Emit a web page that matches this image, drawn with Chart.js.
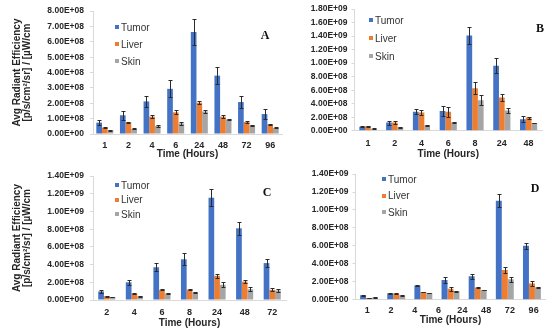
<!DOCTYPE html>
<html>
<head>
<meta charset="utf-8">
<script src="https://cdn.jsdelivr.net/npm/chart.js@4"></script>
<style>
  body { margin: 0; background: #fff; }
  #wrap { position: relative; width: 550px; height: 330px; overflow: hidden; background: #fff; }
  canvas { position: absolute; }
  .legend { position: absolute; font: 10px "Liberation Sans", Arial, sans-serif; color: #333; }
  .legend div { white-space: nowrap; }
  .legend span { display: inline-block; width: 4px; height: 4px; margin-right: 2px; vertical-align: middle; position: relative; top: -1px; }
  .tag { position: absolute; font: bold 12px "Liberation Serif", "Times New Roman", serif; color: #111; transform: translate(-50%, -50%); }
</style>
</head>
<body>
<div id="wrap">
  <canvas id="chartA" width="290" height="165" style="left:0;top:0"></canvas>
  <canvas id="chartB" width="275" height="165" style="left:275px;top:0"></canvas>
  <canvas id="chartC" width="290" height="165" style="left:0;top:165px"></canvas>
  <canvas id="chartD" width="275" height="165" style="left:275px;top:165px"></canvas>
</div>
<script>
// panel A
const aTimes = ['1', '2', '4', '6', '24', '48', '72', '96'];
const aTumor = [0.74e8, 1.22e8, 2.12e8, 2.94e8, 6.64e8, 3.80e8, 2.08e8, 1.30e8];
const aTumorErr = [0.15e8, 0.30e8, 0.36e8, 0.56e8, 0.84e8, 0.53e8, 0.42e8, 0.30e8];
const aLiver = [0.42e8, 0.76e8, 1.13e8, 1.41e8, 2.04e8, 1.13e8, 0.78e8, 0.63e8];
const aLiverErr = [0.04e8, 0.05e8, 0.08e8, 0.12e8, 0.08e8, 0.12e8, 0.05e8, 0.05e8];
const aSkin = [0.25e8, 0.33e8, 0.52e8, 0.69e8, 1.47e8, 0.95e8, 0.57e8, 0.40e8];
const aSkinErr = [0.03e8, 0.03e8, 0.05e8, 0.10e8, 0.12e8, 0.04e8, 0.04e8, 0.03e8];

// panel B
const bTimes = ['1', '2', '4', '6', '8', '24', '48'];
const bTumor = [0.06e9, 0.12e9, 0.28e9, 0.29e9, 1.41e9, 0.96e9, 0.17e9];
const bTumorErr = [0.01e9, 0.03e9, 0.04e9, 0.07e9, 0.13e9, 0.11e9, 0.045e9];
const bLiver = [0.065e9, 0.12e9, 0.27e9, 0.28e9, 0.63e9, 0.49e9, 0.195e9];
const bLiverErr = [0.005e9, 0.02e9, 0.035e9, 0.07e9, 0.09e9, 0.05e9, 0.015e9];
const bSkin = [0.03e9, 0.05e9, 0.08e9, 0.12e9, 0.45e9, 0.30e9, 0.115e9];
const bSkinErr = [0.005e9, 0.005e9, 0.005e9, 0.005e9, 0.075e9, 0.035e9, 0.005e9];

// panel C
const cTimes = ['2', '4', '6', '8', '24', '48', '72'];
const cTumor = [0.097e9, 0.20e9, 0.37e9, 0.46e9, 1.156e9, 0.81e9, 0.417e9];
const cTumorErr = [0.015e9, 0.03e9, 0.045e9, 0.07e9, 0.094e9, 0.07e9, 0.046e9];
const cLiver = [0.043e9, 0.075e9, 0.115e9, 0.118e9, 0.273e9, 0.208e9, 0.115e9];
const cLiverErr = [0.004e9, 0.005e9, 0.005e9, 0.008e9, 0.02e9, 0.015e9, 0.015e9];
const cSkin = [0.032e9, 0.043e9, 0.075e9, 0.086e9, 0.172e9, 0.122e9, 0.108e9];
const cSkinErr = [0.003e9, 0.004e9, 0.005e9, 0.008e9, 0.028e9, 0.025e9, 0.015e9];

// panel D: 8 tick labels on the axis but only 7 bar groups
const dTimes = ['1', '2', '4', '6', '24', '48', '72', '96'];
const dGroups = ['g1', 'g2', 'g3', 'g4', 'g5', 'g6', 'g7'];
const dTumor = [0.05e9, 0.072e9, 0.158e9, 0.22e9, 0.26e9, 1.104e9, 0.60e9];
const dTumorErr = [0.004e9, 0.004e9, 0.005e9, 0.03e9, 0.025e9, 0.07e9, 0.033e9];
const dLiver = [0.02e9, 0.068e9, 0.086e9, 0.122e9, 0.137e9, 0.33e9, 0.18e9];
const dLiverErr = [0.003e9, 0.004e9, 0.005e9, 0.025e9, 0.005e9, 0.033e9, 0.03e9];
const dSkin = [0.025e9, 0.05e9, 0.075e9, 0.094e9, 0.108e9, 0.227e9, 0.14e9];
const dSkinErr = [0.002e9, 0.005e9, 0.005e9, 0.005e9, 0.005e9, 0.028e9, 0.005e9];

const seriesNames = ['Tumor', 'Liver', 'Skin'];
const seriesColors = ['#4472C4', '#ED7D31', '#A5A5A5'];
const yTitle = ['Avg Radiant Efficiency', '[p/s/cm\u00B2/sr] / [\u00B5W/cm'];
const xTitle = 'Time (Hours)';

const FONT = '"Liberation Sans", Arial, sans-serif';
const TEXT = '#262626';
const AXIS = '#d9d9d9';

const sci = (v) => {
    if (v === 0) return '0.00E+00';
    const e = Math.floor(Math.log10(v) + 1e-9);
    const m = v / Math.pow(10, e);
    return m.toFixed(2) + 'E+' + String(e).padStart(2, '0');
};

const errorBars = {
    id: 'errorBars',
    afterDatasetsDraw(chart) {
        const ctx = chart.ctx;
        const y = chart.scales.y;
        ctx.save();
        ctx.strokeStyle = '#2b2b2b';
        ctx.lineWidth = 1;
        chart.data.datasets.forEach((ds, i) => {
            chart.getDatasetMeta(i).data.forEach((bar, j) => {
                const err = ds.errors[j];
                if (!err) return;
                const top = Math.round(y.getPixelForValue(ds.data[j] + err)) + 0.5;
                const bot = Math.round(y.getPixelForValue(Math.max(0, ds.data[j] - err))) + 0.5;
                const x = Math.round(bar.x) + 0.5;
                ctx.beginPath();
                ctx.moveTo(x, top); ctx.lineTo(x, bot);
                ctx.moveTo(x - 2, top); ctx.lineTo(x + 2, top);
                ctx.moveTo(x - 2, bot); ctx.lineTo(x + 2, bot);
                ctx.stroke();
            });
        });
        ctx.restore();
    }
};

class PanelChart {
    constructor(p) {
        this.p = p;
    }

    render() {
        const p = this.p;
        const datasets = p.series.map((s, i) => ({
            label: seriesNames[i],
            data: s.values,
            errors: s.errors,
            backgroundColor: seriesColors[i],
            categoryPercentage: p.catPct,
            barPercentage: 1.0,
            xAxisID: 'x'
        }));

        const xTicks = {
            color: TEXT,
            padding: p.xPad,
            autoSkip: false,
            maxRotation: 0,
            font: { family: FONT, size: 9, weight: 'bold' }
        };
        const xTitleOpts = {
            display: true,
            text: xTitle,
            color: TEXT,
            padding: { top: 0, bottom: p.titleBottom },
            font: { family: FONT, size: 10, weight: 'bold' }
        };

        const scales = {
            y: {
                min: 0,
                max: p.yMax,
                afterFit: (s) => { s.width = p.yWidth; },
                ticks: {
                    stepSize: p.yStep,
                    color: TEXT,
                    padding: p.yPad,
                    callback: (v) => sci(v),
                    font: { family: FONT, size: 8.5, weight: 'bold' }
                },
                grid: { drawOnChartArea: false, drawTicks: true, tickLength: 3, color: AXIS },
                border: { color: AXIS },
                title: p.showYTitle ? {
                    display: true,
                    text: yTitle,
                    color: TEXT,
                    padding: { top: 12, bottom: 0 },
                    font: { family: FONT, size: 10, weight: 'bold', lineHeight: 1.0 }
                } : { display: false }
            }
        };

        if (p.tickLabels) {
            // bars sit on a hidden axis, the printed labels come from a second axis
            scales.x = { display: false, offset: true };
            scales.xl = {
                type: 'category',
                position: 'bottom',
                offset: true,
                labels: p.tickLabels,
                afterFit: (s) => { s.height = p.xHeight; },
                ticks: xTicks,
                grid: { display: false, drawTicks: false },
                border: { color: AXIS },
                title: xTitleOpts
            };
        } else {
            scales.x = {
                afterFit: (s) => { s.height = p.xHeight; },
                ticks: xTicks,
                grid: { display: false, drawTicks: false },
                border: { color: AXIS },
                title: xTitleOpts
            };
        }

        this.chart = new Chart(document.getElementById(p.canvas).getContext('2d'), {
            type: 'bar',
            data: { labels: p.labels, datasets: datasets },
            options: {
                responsive: false,
                animation: false,
                layout: { padding: { top: p.top, right: p.right, bottom: 0, left: 0 } },
                plugins: { legend: { display: false }, tooltip: { enabled: false } },
                scales: scales
            },
            plugins: [errorBars]
        });
    }
}

const addLegend = (left, top, step) => {
    const box = document.createElement('div');
    box.className = 'legend';
    box.style.left = left + 'px';
    box.style.top = top + 'px';
    box.innerHTML = seriesNames.map((n, i) =>
        `<div style="height:${step}px;line-height:${step}px"><span style="background:${seriesColors[i]}"></span>${n}</div>`
    ).join('');
    document.getElementById('wrap').appendChild(box);
};

const addTag = (text, x, y) => {
    const t = document.createElement('div');
    t.className = 'tag';
    t.textContent = text;
    t.style.left = x + 'px';
    t.style.top = y + 'px';
    document.getElementById('wrap').appendChild(t);
};

const onload = () => {
    new PanelChart({
        canvas: 'chartA', labels: aTimes,
        series: [{ values: aTumor, errors: aTumorErr }, { values: aLiver, errors: aLiverErr }, { values: aSkin, errors: aSkinErr }],
        yMax: 8e8, yStep: 1e8, yWidth: 93, yPad: 6, showYTitle: true,
        xHeight: 31, xPad: 6, titleBottom: 5, top: 7.5, right: 8, catPct: 0.72
    }).render();

    new PanelChart({
        canvas: 'chartB', labels: bTimes,
        series: [{ values: bTumor, errors: bTumorErr }, { values: bLiver, errors: bLiverErr }, { values: bSkin, errors: bSkinErr }],
        yMax: 1.8e9, yStep: 2e8, yWidth: 79.5, yPad: 4, showYTitle: false,
        xHeight: 34.3, xPad: 7, titleBottom: 5, top: 8.3, right: 8, catPct: 0.64
    }).render();

    new PanelChart({
        canvas: 'chartC', labels: cTimes,
        series: [{ values: cTumor, errors: cTumorErr }, { values: cLiver, errors: cLiverErr }, { values: cSkin, errors: cSkinErr }],
        yMax: 1.4e9, yStep: 2e8, yWidth: 93, yPad: 6, showYTitle: true,
        xHeight: 30, xPad: 7, titleBottom: 1, top: 5, right: 4, catPct: 0.62
    }).render();

    new PanelChart({
        canvas: 'chartD', labels: dGroups, tickLabels: dTimes,
        series: [{ values: dTumor, errors: dTumorErr }, { values: dLiver, errors: dLiverErr }, { values: dSkin, errors: dSkinErr }],
        yMax: 1.4e9, yStep: 2e8, yWidth: 80.5, yPad: 4, showYTitle: false,
        xHeight: 30.3, xPad: 5, titleBottom: 4, top: 5, right: 4.5, catPct: 0.66
    }).render();

    addLegend(115, 18.5, 17);
    addLegend(369, 12, 18);
    addLegend(115, 178.75, 14.5);
    addLegend(382, 171.75, 16.5);

    addTag('A', 265, 35);
    addTag('B', 540, 28);
    addTag('C', 267, 192);
    addTag('D', 535, 188);
};

document.addEventListener('DOMContentLoaded', onload);
</script>
</body>
</html>
